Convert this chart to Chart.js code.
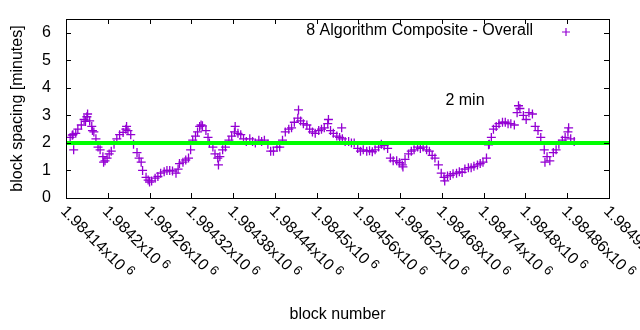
<!DOCTYPE html>
<html>
<head>
<meta charset="utf-8">
<script src="https://cdn.jsdelivr.net/npm/chart.js@4"></script>
<style>
  html, body { margin: 0; padding: 0; background: #fff; }
  #wrap { width: 640px; height: 330px; }
</style>
</head>
<body>
<div id="wrap"><canvas id="grafica" width="640" height="330"></canvas></div>
<script>
// block numbers and spacing (minutes)
const bloques = [
  1984146, 1984149, 1984150, 1984151, 1984154, 1984157, 1984162, 1984166, 1984168, 1984170,
  1984171, 1984174, 1984177, 1984178, 1984180, 1984183, 1984186, 1984189, 1984193, 1984194,
  1984196, 1984199, 1984202, 1984205, 1984209, 1984213, 1984217, 1984222, 1984226, 1984227,
  1984229, 1984233, 1984237, 1984242, 1984245, 1984248, 1984250, 1984255, 1984258, 1984260,
  1984263, 1984268, 1984272, 1984276, 1984281, 1984285, 1984289, 1984293, 1984298, 1984301,
  1984303, 1984308, 1984312, 1984316, 1984319, 1984322, 1984326, 1984329, 1984332, 1984334,
  1984336, 1984341, 1984344, 1984346, 1984351, 1984354, 1984358, 1984359, 1984361, 1984365,
  1984369, 1984374, 1984378, 1984382, 1984383, 1984387, 1984391, 1984395, 1984399, 1984404,
  1984408, 1984412, 1984417, 1984421, 1984425, 1984430, 1984434, 1984438, 1984443, 1984447,
  1984451, 1984455, 1984460, 1984464, 1984468, 1984473, 1984474, 1984477, 1984481, 1984486,
  1984490, 1984494, 1984498, 1984503, 1984507, 1984511, 1984516, 1984517, 1984520, 1984524,
  1984529, 1984533, 1984536, 1984537, 1984541, 1984546, 1984550, 1984554, 1984559, 1984563,
  1984567, 1984572, 1984576, 1984580, 1984584, 1984589, 1984593, 1984597, 1984602, 1984606,
  1984610, 1984615, 1984619, 1984623, 1984624, 1984627, 1984632, 1984636, 1984640, 1984645,
  1984649, 1984653, 1984658, 1984662, 1984666, 1984670, 1984675, 1984679, 1984683, 1984684,
  1984688, 1984692, 1984696, 1984701, 1984705, 1984709, 1984713, 1984718, 1984722, 1984726,
  1984731, 1984735, 1984739, 1984744, 1984747, 1984748, 1984751, 1984754, 1984758, 1984762,
  1984767, 1984771, 1984775, 1984779, 1984784, 1984788, 1984790, 1984792, 1984797, 1984801,
  1984805, 1984810, 1984814, 1984818, 1984822, 1984827, 1984828, 1984831, 1984835, 1984840,
  1984844, 1984848, 1984853, 1984857, 1984861, 1984862, 1984865, 1984870
];
const espaciado = [
  2.20, 2.28, 2.30, 1.75, 2.35, 2.50, 2.65, 2.85, 2.78, 2.95,
  3.05, 2.80, 2.60, 2.45, 2.40, 2.15, 1.85, 1.75, 1.50, 1.30,
  1.35, 1.45, 1.60, 1.70, 1.95, 2.15, 2.30, 2.38, 2.50, 2.60,
  2.45, 2.30, 1.95, 1.65, 1.45, 1.30, 1.00, 0.75, 0.65, 0.58,
  0.62, 0.72, 0.78, 0.90, 0.95, 1.00, 1.00, 0.98, 0.90, 1.05,
  1.25, 1.30, 1.38, 1.45, 1.75, 2.10, 2.25, 2.40, 2.60, 2.65,
  2.62, 2.45, 2.20, 2.00, 1.85, 1.60, 1.45, 1.20, 1.50, 1.75,
  1.85, 2.10, 2.25, 2.40, 2.60, 2.35, 2.30, 2.15, 2.05, 2.15,
  2.05, 2.00, 2.10, 2.05, 2.10, 1.95, 1.70, 1.70, 1.85, 1.85,
  2.10, 2.40, 2.50, 2.55, 2.75, 2.90, 3.20, 2.80, 2.70, 2.65,
  2.50, 2.40, 2.35, 2.45, 2.50, 2.55, 2.70, 2.85, 2.45, 2.35,
  2.25, 2.20, 2.55, 2.15, 2.05, 2.05, 2.00, 2.00, 1.80, 1.70,
  1.75, 1.70, 1.72, 1.68, 1.75, 1.85, 1.95, 1.90, 1.80, 1.45,
  1.35, 1.35, 1.28, 1.20, 1.13, 1.40, 1.60, 1.70, 1.75, 1.85,
  1.80, 1.85, 1.75, 1.70, 1.55, 1.45, 1.20, 0.90, 0.75, 0.62,
  0.80, 0.82, 0.88, 0.90, 0.95, 0.93, 1.05, 1.10, 1.10, 1.15,
  1.20, 1.25, 1.30, 1.45, 1.93, 1.95, 2.20, 2.50, 2.60, 2.70,
  2.75, 2.75, 2.70, 2.70, 2.65, 3.10, 3.35, 3.25, 3.00, 2.85,
  3.10, 3.05, 2.60, 2.45, 2.20, 1.75, 1.30, 1.50, 1.35, 1.65,
  1.75, 1.95, 2.10, 2.20, 2.40, 2.55, 2.15, 2.05
];
// horizontal reference line at 2 minutes
const lineaObjetivo = 2;
const etiquetaObjetivo = "2 min";
const etiquetaSerie = "8 Algorithm Composite - Overall";

const xMin = 1984140, xMax = 1984920;
const ticksX = [1984140, 1984200, 1984260, 1984320, 1984380, 1984440, 1984500,
                1984560, 1984620, 1984680, 1984740, 1984800, 1984860, 1984920];
const etiquetasX = ["1.98414x10", "1.9842x10", "1.98426x10", "1.98432x10", "1.98438x10",
  "1.98444x10", "1.9845x10", "1.98456x10", "1.98462x10", "1.98468x10", "1.98474x10",
  "1.9848x10", "1.98486x10", "1.98492x10"];
const ticksY = [0, 1, 2, 3, 4, 5, 6];

const FUENTE = '"Liberation Sans", Arial, sans-serif';
const MORADO = "#9400d3";

// gnuplot-like frame, inward tics, rotated labels, titles, legend
const marcoGnuplot = {
    id: "marcoGnuplot",
    afterDraw(chart) {
        const ctx = chart.ctx;
        const a = chart.chartArea;
        const sx = chart.scales.x, sy = chart.scales.y;
        ctx.save();
        ctx.strokeStyle = "#000";
        ctx.lineWidth = 1;
        ctx.strokeRect(Math.round(a.left) + 0.5, Math.round(a.top) + 0.5,
            Math.round(a.right - a.left), Math.round(a.bottom - a.top));

        ctx.beginPath();
        ticksY.forEach(v => {
            const y = Math.round(sy.getPixelForValue(v)) + 0.5;
            ctx.moveTo(a.left, y); ctx.lineTo(a.left + 5, y);
            ctx.moveTo(a.right, y); ctx.lineTo(a.right - 5, y);
        });
        ticksX.forEach(v => {
            const x = Math.round(sx.getPixelForValue(v)) + 0.5;
            ctx.moveTo(x, a.bottom); ctx.lineTo(x, a.bottom - 5);
            ctx.moveTo(x, a.top); ctx.lineTo(x, a.top + 5);
        });
        ctx.stroke();

        ctx.fillStyle = "#000";
        ctx.font = "16px " + FUENTE;
        ctx.textAlign = "right";
        ctx.textBaseline = "middle";
        ticksY.forEach(v => ctx.fillText(String(v), a.left - 15, sy.getPixelForValue(v)));

        // x labels rotated clockwise, starting at the tick
        ticksX.forEach((v, i) => {
            const x = sx.getPixelForValue(v);
            ctx.save();
            ctx.translate(x - 3, a.bottom + 11);
            ctx.rotate(Math.PI / 4);
            ctx.textAlign = "left";
            ctx.textBaseline = "middle";
            ctx.font = "16px " + FUENTE;
            ctx.fillText(etiquetasX[i], 0, 0);
            const w = ctx.measureText(etiquetasX[i]).width;
            ctx.font = "13px " + FUENTE;
            ctx.fillText("6", w + 4, -4);
            ctx.restore();
        });

        ctx.font = "16px " + FUENTE;
        ctx.textAlign = "center";
        ctx.textBaseline = "middle";
        ctx.fillText("block number", (a.left + a.right) / 2, 315);
        ctx.save();
        ctx.translate(18, (a.top + a.bottom) / 2);
        ctx.rotate(-Math.PI / 2);
        ctx.fillText("block spacing [minutes]", 0, 0);
        ctx.restore();

        // "2 min" label placed in data coordinates
        ctx.textAlign = "left";
        ctx.fillText(etiquetaObjetivo, sx.getPixelForValue(1984685), sy.getPixelForValue(3.53));

        // legend
        ctx.textAlign = "right";
        ctx.fillText(etiquetaSerie, 533, 31);
        ctx.strokeStyle = MORADO;
        ctx.lineWidth = 1.2;
        ctx.beginPath();
        ctx.moveTo(562, 32); ctx.lineTo(570, 32);
        ctx.moveTo(566, 28); ctx.lineTo(566, 36);
        ctx.stroke();
        ctx.restore();
    }
};

const puntos = bloques.map((b, i) => ({ x: b, y: espaciado[i] }));

new Chart(document.getElementById("grafica").getContext("2d"), {
    type: "scatter",
    data: {
        datasets: [
            {
                label: etiquetaObjetivo,
                type: "line",
                data: [{ x: xMin, y: lineaObjetivo }, { x: xMax, y: lineaObjetivo }],
                borderColor: "#00ff00",
                borderWidth: 4,
                pointRadius: 0,
                fill: false
            },
            {
                label: etiquetaSerie,
                data: puntos,
                pointStyle: "cross",
                pointRadius: 4.5,
                borderColor: MORADO,
                backgroundColor: MORADO,
                borderWidth: 1.3
            }
        ]
    },
    options: {
        responsive: false,
        animation: false,
        events: [],
        layout: { padding: { left: 66, right: 31, top: 19, bottom: 132 } },
        plugins: { legend: { display: false }, tooltip: { enabled: false } },
        scales: {
            x: { type: "linear", min: xMin, max: xMax, display: false },
            y: { min: 0, max: 6.5, display: false }
        }
    },
    plugins: [marcoGnuplot]
});
</script>
</body>
</html>
